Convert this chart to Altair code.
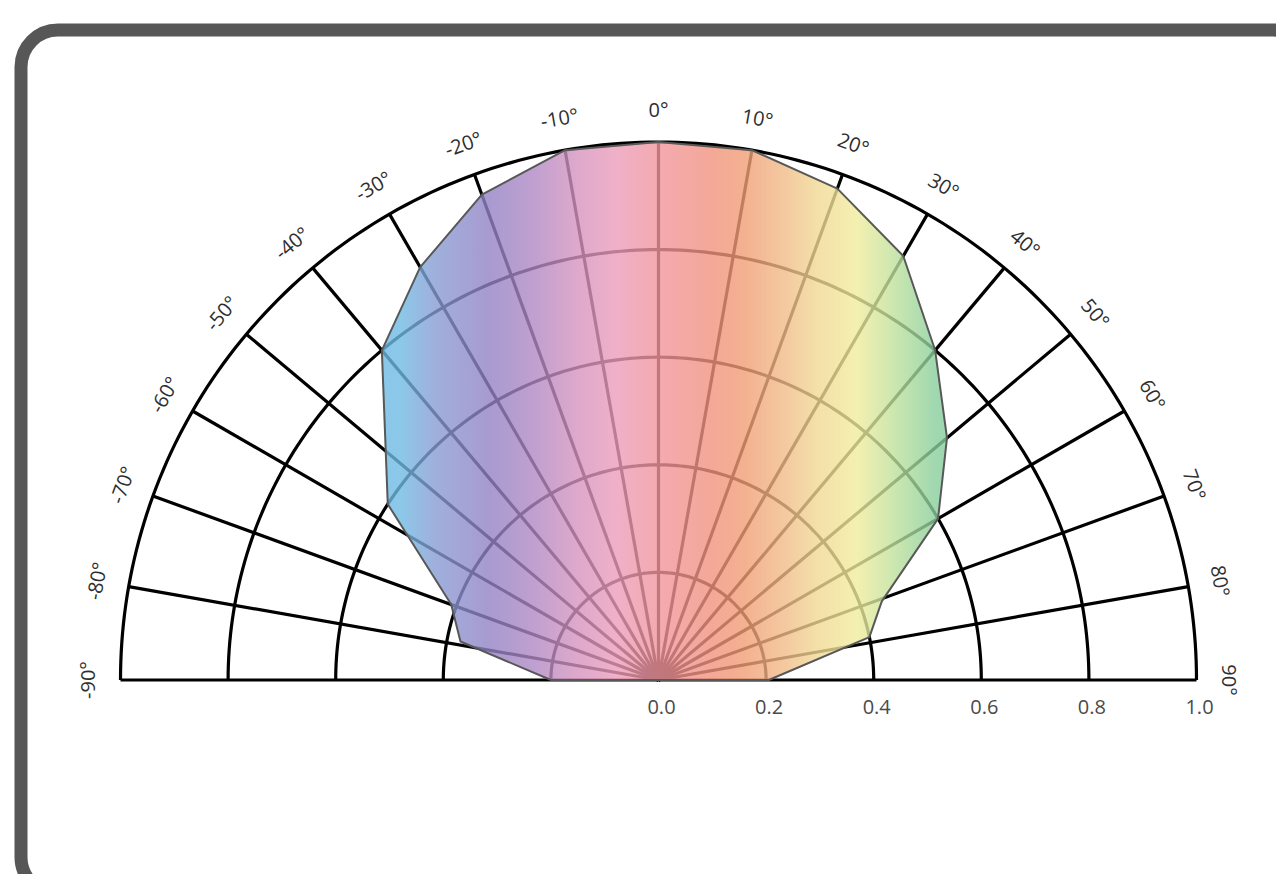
import altair as alt
import pandas as pd

# ---- data ----
shape_angle = [-90, -79, -70, -57, -40, -30, -20, -10, 0, 10, 20, 30, 40, 50, 60, 70.6, 78.5, 90]
shape_radius = [0.20, 0.375, 0.41, 0.60, 0.80, 0.886, 0.96, 1.0, 1.0, 1.0, 0.972, 0.91, 0.80, 0.70, 0.60, 0.44, 0.40, 0.205]
ring_radius = [0.2, 0.4, 0.6, 0.8, 1.0]
spoke_angle = [-90, -80, -70, -60, -50, -40, -30, -20, -10, 0, 10, 20, 30, 40, 50, 60, 70, 80, 90]
angle_labels = [f"{a}°" for a in spoke_angle]
radius_ticks = [0.0, 0.2, 0.4, 0.6, 0.8, 1.0]
radius_labels = ["0.0", "0.2", "0.4", "0.6", "0.8", "1.0"]

# gradient colours across the lobe (left -> right)
grad_offsets = [0.0, 0.034, 0.093, 0.19, 0.27, 0.34, 0.415, 0.49, 0.58, 0.64, 0.71, 0.77, 0.84, 0.90, 0.98, 1.0]
grad_colors = ["#6cb9e3", "#6fbae2", "#879cd3", "#9281c4", "#b088c4", "#d392bf", "#ec9cba", "#f1959c",
               "#f1927e", "#f19c74", "#f1ba88", "#f1d892", "#f1ec9c", "#c4e29c", "#88ce9c", "#84cc9c"]

# ---- layout ----
W, H = 1268, 866
PX = 538.0
CX, CY = 650.5, 672.0
xmin, xmax = -CX / PX, (W - CX) / PX
ymin, ymax = -(H - CY) / PX, CY / PX
xs = alt.Scale(domain=[xmin, xmax], nice=False, zero=False)
ys = alt.Scale(domain=[ymin, ymax], nice=False, zero=False)


def X(f):
    return alt.X(f, type="quantitative", scale=xs, axis=None)


def Y(f):
    return alt.Y(f, type="quantitative", scale=ys, axis=None)


FONT = "Open Sans"

# rings
ring_df = pd.DataFrame([{"r": r, "t": t} for r in ring_radius for t in range(-90, 91)])
rings = alt.Chart(ring_df).transform_calculate(
    x="datum.r*sin(datum.t*PI/180)", y="datum.r*cos(datum.t*PI/180)"
).mark_line(color="black", strokeWidth=3.2).encode(
    x=X("x"), y=Y("y"), detail="r:N", order="t:Q"
)

# spokes
spoke_df = pd.DataFrame({"t": spoke_angle})
spokes = alt.Chart(spoke_df).transform_calculate(
    x0="0", y0="0", x1="sin(datum.t*PI/180)", y1="cos(datum.t*PI/180)"
).mark_rule(color="black", strokeWidth=3.2).encode(
    x=X("x0"), y=Y("y0"), x2="x1:Q", y2="y1:Q"
)

# lobe
n = len(shape_angle)
shape_df = pd.DataFrame({
    "t": shape_angle + [shape_angle[0]],
    "r": shape_radius + [shape_radius[0]],
    "i": list(range(n + 1)),
})
grad = alt.Gradient(
    gradient="linear",
    stops=[alt.GradientStop(offset=o, color=c) for o, c in zip(grad_offsets, grad_colors)],
    x1=0, x2=1, y1=0, y2=0,
)
shape = alt.Chart(shape_df).transform_calculate(
    x="datum.r*sin(datum.t*PI/180)", y="datum.r*cos(datum.t*PI/180)"
).mark_line(fill=grad, fillOpacity=0.8, stroke="#585858", strokeWidth=2, strokeJoin="round").encode(
    x=X("x"), y=Y("y"), order="i:Q"
)

# angle labels
lab_df = pd.DataFrame({"t": spoke_angle, "label": angle_labels})
labels = alt.Chart(lab_df).transform_calculate(
    x="1.058*sin(datum.t*PI/180)", y="1.058*cos(datum.t*PI/180)", rot="(datum.t+360)%360"
).mark_text(font=FONT, fontSize=20, color="#2e2e2e", align="center", baseline="middle").encode(
    x=X("x"), y=Y("y"), text="label:N", angle=alt.Angle("rot:Q", scale=None)
)

# radius labels
rl_df = pd.DataFrame({"r": radius_ticks, "label": radius_labels})
rlabels = alt.Chart(rl_df).transform_calculate(y0="0").mark_text(
    font=FONT, fontSize=20, color="#4a4a4a", align="center", baseline="middle", dy=28, dx=3
).encode(x=X("r"), y=Y("y0"), text="label:N")

# frame
frame = alt.Chart(pd.DataFrame({"a": [0]})).mark_rect(
    fill="transparent", stroke="#575757", strokeWidth=13, cornerRadius=37
).encode(x=alt.value(13), x2=alt.value(1302), y=alt.value(22), y2=alt.value(886))

chart = alt.layer(rings, spokes, shape, labels, rlabels, frame).properties(
    width=W, height=H, autosize="none", padding=0, background="white"
).configure_view(strokeWidth=0)

chart.save("out.html", embed_options={"renderer": "svg", "actions": False})
